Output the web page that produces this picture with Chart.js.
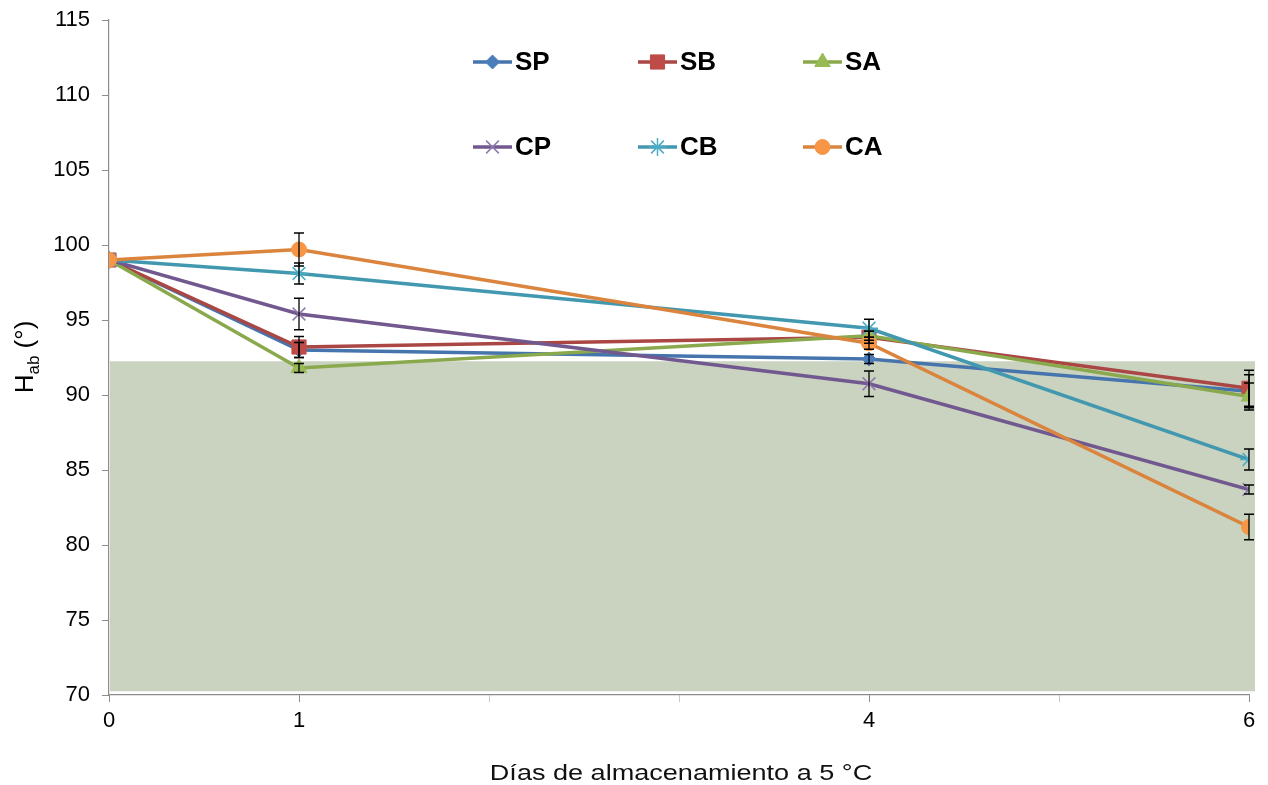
<!DOCTYPE html>
<html><head><meta charset="utf-8">
<script src="https://cdn.jsdelivr.net/npm/chart.js@4.4.0/dist/chart.umd.min.js"></script>
<style>html,body{margin:0;padding:0;background:#fff;overflow:hidden;} #wrap{width:1268px;height:785px;position:relative;}</style>
</head><body><div id="wrap"><canvas id="c"></canvas></div>
<script>
// ---- data ----
const days = [0, 1, 4, 6];
const labelledDays = [0, 1, 4, 6];
const yTicks = [70, 75, 80, 85, 90, 95, 100, 105, 110, 115];
const seriesNames = ['SP', 'SB', 'SA', 'CP', 'CB', 'CA'];
const SP = [99.0, 93.0, 92.4, 90.25];
const SB = [99.0, 93.2, 93.85, 90.45];
const SA = [99.0, 91.8, 93.95, 89.9];
const CP = [99.0, 95.4, 90.75, 83.7];
const CB = [99.0, 98.1, 94.45, 85.7];
const CA = [99.0, 99.7, 93.45, 81.2];
const errSP = [0, 0.5, 0.3, 1.1];
const errSB = [0, 0.7, 0.4, 1.2];
const errSA = [0, 0.3, 0.3, 0.9];
const errCP = [0, 1.05, 0.85, 0.3];
const errCB = [0, 0.7, 0.6, 0.7];
const errCA = [0, 1.1, 0.4, 0.85];
const shadeFrom = 70.25, shadeTo = 92.25;

const values = [SP, SB, SA, CP, CB, CA];
const errors = [errSP, errSB, errSA, errCP, errCB, errCA];
const lineColors = ['#4674AD', '#AA4643', '#8AA84C', '#71588F', '#4198AF', '#DB843D'];
const markerFill = ['#4A7EBB', '#BE4B48', '#98B954', '#8E7AAE', '#4BACC6', '#F79646'];
const markerStyle = ['rectRot', 'rect', 'triangle', 'crossRot', 'star', 'circle'];
const markerRadius = [7, 10, 9, 9, 9, 7.5];

const datasets = seriesNames.map((n, i) => ({
  label: n,
  data: days.map((d, j) => ({x: d, y: values[i][j]})),
  borderColor: lineColors[i],
  backgroundColor: markerFill[i],
  borderWidth: 3.5,
  pointStyle: markerStyle[i],
  pointRadius: markerRadius[i],
  pointBorderColor: markerFill[i],
  pointBorderWidth: (markerStyle[i] === 'crossRot' || markerStyle[i] === 'star') ? 1.5 : 1,
  pointBackgroundColor: markerFill[i],
  tension: 0,
  order: 6 - i
}));

const shadePlugin = {
  id: 'shade',
  beforeDatasetsDraw(chart) {
    const {ctx, scales: {x, y}} = chart;
    ctx.save();
    ctx.fillStyle = '#CAD2C0';
    const l = x.getPixelForValue(0) + 1, r = x.getPixelForValue(6) + 6;
    const t = y.getPixelForValue(shadeTo), b = y.getPixelForValue(shadeFrom);
    ctx.fillRect(l, t, r - l, b - t);
    ctx.restore();
  }
};

const errorPlugin = {
  id: 'errbars',
  afterDatasetsDraw(chart) {
    const {ctx, scales: {x, y}} = chart;
    ctx.save();
    ctx.strokeStyle = '#000';
    ctx.lineWidth = 1.3;
    errors.forEach((errs, i) => {
      errs.forEach((e, j) => {
        if (!e) return;
        const px = x.getPixelForValue(days[j]);
        const top = y.getPixelForValue(values[i][j] + e);
        const bot = y.getPixelForValue(values[i][j] - e);
        ctx.beginPath();
        ctx.moveTo(px, top); ctx.lineTo(px, bot);
        ctx.moveTo(px - 5, top); ctx.lineTo(px + 5, top);
        ctx.moveTo(px - 5, bot); ctx.lineTo(px + 5, bot);
        ctx.stroke();
      });
    });
    ctx.restore();
  }
};

const legendCols = [473, 638, 803];
const legendRows = [62, 147];
const textPlugin = {
  id: 'texts',
  afterDraw(chart) {
    const {ctx} = chart;
    ctx.save();
    // legend
    seriesNames.forEach((n, i) => {
      const lx = legendCols[i % 3], ly = legendRows[Math.floor(i / 3)];
      ctx.strokeStyle = lineColors[i];
      ctx.lineWidth = 3.5;
      ctx.lineCap = 'butt';
      ctx.beginPath(); ctx.moveTo(lx, ly); ctx.lineTo(lx + 39, ly); ctx.stroke();
      ctx.fillStyle = markerFill[i];
      ctx.strokeStyle = markerFill[i];
      ctx.lineWidth = datasets[i].pointBorderWidth;
      Chart.helpers.drawPoint(ctx, {pointStyle: markerStyle[i], radius: markerRadius[i], rotation: 0, borderWidth: datasets[i].pointBorderWidth}, lx + 19.5, ly);
      ctx.fillStyle = '#000';
      ctx.font = 'bold 26px "Liberation Sans", Arial, sans-serif';
      ctx.textBaseline = 'middle';
      ctx.textAlign = 'left';
      ctx.fillText(n, lx + 42, ly + 1);
    });
    // x title (horizontally widened like the original)
    ctx.save();
    ctx.fillStyle = '#111';
    ctx.font = '22px "Liberation Sans", Arial, sans-serif';
    ctx.textAlign = 'center';
    ctx.textBaseline = 'middle';
    ctx.translate((chart.chartArea.left + chart.chartArea.right) / 2 + 2, 774);
    ctx.scale(1.23, 1);
    ctx.fillText('Días de almacenamiento a 5 °C', 0, 0);
    ctx.restore();
    // y title
    ctx.translate(24, 357);
    ctx.rotate(-Math.PI / 2);
    ctx.fillStyle = '#000';
    ctx.textAlign = 'left';
    ctx.textBaseline = 'alphabetic';
    const big = '26px "Liberation Sans", Arial, sans-serif';
    const small = '17px "Liberation Sans", Arial, sans-serif';
    ctx.font = big; const wH = ctx.measureText('H').width; const wP = ctx.measureText(' (°)').width;
    ctx.font = small; const wS = ctx.measureText('ab').width;
    let sx = -(wH + wS + wP) / 2;
    ctx.font = big; ctx.fillText('H', sx, 9); sx += wH;
    ctx.font = small; ctx.fillText('ab', sx, 15); sx += wS;
    ctx.font = big; ctx.fillText(' (°)', sx, 9);
    ctx.restore();
  }
};

new Chart(document.getElementById('c'), {
  type: 'line',
  data: {datasets},
  options: {
    responsive: true,
    maintainAspectRatio: false,
    animation: false,
    layout: {autoPadding: false, padding: {left: 0, top: 20, right: 19, bottom: 0}},
    plugins: {legend: {display: false}, tooltip: {enabled: false}},
    scales: {
      x: {
        type: 'linear', min: 0, max: 6,
        afterFit(s) { s.height = 90; s.paddingLeft = 0; s.paddingRight = 0; },
        border: {color: '#8C8C8C', width: 1.2},
        grid: {drawOnChartArea: false, drawTicks: true, tickLength: 7,
               tickColor: c => labelledDays.includes(c.tick && c.tick.value) ? '#8C8C8C' : '#C8C8C8'},
        ticks: {stepSize: 1, padding: 6, color: '#000',
                font: {family: '"Liberation Sans", Arial, sans-serif', size: 22},
                callback: v => labelledDays.includes(v) ? String(v) : ''}
      },
      y: {
        min: yTicks[0], max: yTicks[yTicks.length - 1],
        afterFit(s) { s.width = 109; s.paddingTop = 0; s.paddingBottom = 0; },
        border: {color: '#8C8C8C', width: 1.2},
        grid: {drawOnChartArea: false, drawTicks: true, tickLength: 7, tickColor: '#8C8C8C'},
        ticks: {stepSize: 5, padding: 12, color: '#000',
                font: {family: '"Liberation Sans", Arial, sans-serif', size: 22}}
      }
    }
  },
  plugins: [shadePlugin, errorPlugin, textPlugin]
});
</script></body></html>
